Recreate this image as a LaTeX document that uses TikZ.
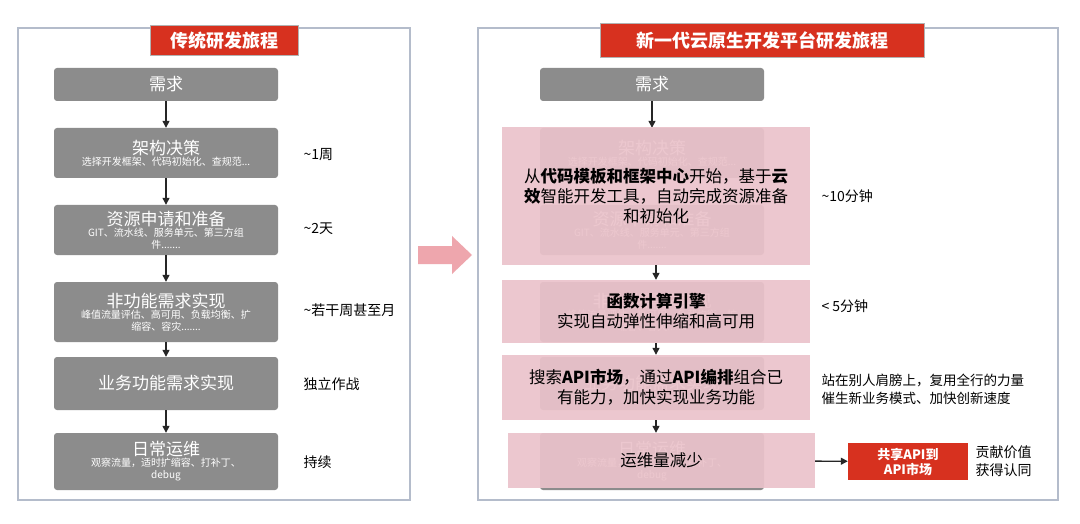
\documentclass[tikz,border=0pt]{standalone}
\usepackage{fontspec}
\setmainfont{Noto Sans CJK SC}
\usetikzlibrary{arrows.meta}
\definecolor{rd}{HTML}{D7311F}
\definecolor{bx}{HTML}{8C8C8C}
\definecolor{pk}{HTML}{EBC3CB}
\definecolor{fr}{HTML}{B4BCCB}
\begin{document}
\begin{tikzpicture}[x=1pt,y=-1pt,
 gbox/.style={fill=bx,rounded corners=3pt,text=white,align=center,inner sep=0},
 title/.style={fill=rd,draw=gray!60,line width=1pt,text=white,font=\fontsize{18}{21}\selectfont\bfseries,inner sep=0},
 arr/.style={-{Triangle[length=7pt,width=7pt]},line width=1.3pt,black!85},
 lab/.style={anchor=west,font=\fontsize{14}{17}\selectfont,align=left},
 ov/.style={fill=pk,fill opacity=0.92,text opacity=1,align=center,inner sep=0,font=\fontsize{16.5}{20}\selectfont}]
\useasboundingbox (0,0) rectangle (1080,524);
\fill[white] (0,0) rectangle (1080,524);
\draw[fr,line width=1.5pt] (18,28) rectangle (410,500);
\draw[fr,line width=1.5pt] (478,28) rectangle (1058,500);
\foreach \dx/\p in {0/L,486/R}{
\node[gbox,minimum width=224,minimum height=33] (\p0) at (166+\dx,84.5) {\fontsize{17}{19}\selectfont 需求};
\node[gbox,minimum width=224,minimum height=50] (\p1) at (166+\dx,153) {\fontsize{17}{19}\selectfont 架构决策\\[-1pt]\fontsize{10}{11}\selectfont 选择开发框架、代码初始化、查规范...};
\node[gbox,minimum width=224,minimum height=50] (\p2) at (166+\dx,230) {\fontsize{17}{19}\selectfont 资源申请和准备\\[-1pt]\fontsize{10}{11}\selectfont GIT、流水线、服务单元、第三方组\\\fontsize{10}{11}\selectfont 件.......};
\node[gbox,minimum width=224,minimum height=60] (\p3) at (166+\dx,312) {\fontsize{17}{19}\selectfont 非功能需求实现\\[-1pt]\fontsize{10}{11}\selectfont 峰值流量评估、高可用、负载均衡、扩\\\fontsize{10}{11}\selectfont 缩容、容灾.......};
\node[gbox,minimum width=224,minimum height=53] (\p4) at (166+\dx,383.5) {\fontsize{17}{19}\selectfont 业务功能需求实现};
\node[gbox,minimum width=224,minimum height=57] (\p5) at (166+\dx,461.5) {\fontsize{17}{19}\selectfont 日常运维\\[-1pt]\fontsize{10}{11}\selectfont 观察流量，适时扩缩容、打补丁、\\\fontsize{10}{11}\selectfont debug};
}
\foreach \a/\b in {0/1,1/2,2/3,3/4,4/5}{\draw[arr] (L\a) -- (L\b);}
\draw[arr] (R0) -- (R1);
\node[title,minimum width=148,minimum height=30] (t1) at (224,41) {传统研发旅程};
\node[title,minimum width=324,minimum height=34] (t2) at (762,41) {新一代云原生开发平台研发旅程};
\node[lab] (l1) at (300,155) {{\textasciitilde}1周};
\node[lab] (l2) at (300,229) {{\textasciitilde}2天};
\node[lab] (l3) at (300,310) {{\textasciitilde}若干周甚至月};
\node[lab] (l4) at (300,384) {独立作战};
\node[lab] (l5) at (300,462) {持续};
\fill[pk!85!red] (418,246) -- (452,246) -- (452,236) -- (472,255) -- (452,274) -- (452,264) -- (418,264) -- cycle;
\node[ov,minimum width=308,minimum height=138] (o1) at (656,196) {从\textbf{代码模板和框架中心}开始，基于\textbf{云}\\\textbf{效}智能开发工具，自动完成资源准备\\和初始化};
\node[ov,minimum width=308,minimum height=63] (o2) at (656,311.5) {\textbf{函数计算引擎}\\实现自动弹性伸缩和高可用};
\node[ov,minimum width=308,minimum height=65] (o3) at (656,387.5) {搜索\textbf{API市场}，通过\textbf{API编排}组合已\\有能力，加快实现业务功能};
\node[ov,minimum width=307,minimum height=55] (o4) at (661.5,460.5) {运维量减少};
\draw[arr] (o1) -- (o2);
\draw[arr] (o2) -- (o3);
\draw[arr] (o3) -- (o3|-o4.north);
\node[lab] (r1) at (818,196) {{\textasciitilde}10分钟};
\node[lab] (r2) at (818,306) {< 5分钟};
\node[lab,font=\fontsize{13.5}{18}\selectfont] (r3) at (818,389) {站在别人肩膀上，复用全行的力量\\催生新业务模式、加快创新速度};
\node[fill=rd,text=white,font=\fontsize{13}{15}\selectfont\bfseries,align=center,minimum width=120,minimum height=37,inner sep=0] (api) at (908,461.5) {共享API到\\API市场};
\draw[arr] (o4) -- (api);
\node[lab,font=\fontsize{14}{18}\selectfont] (r4) at (972,461) {贡献价值\\获得认同};
\end{tikzpicture}
\end{document}
